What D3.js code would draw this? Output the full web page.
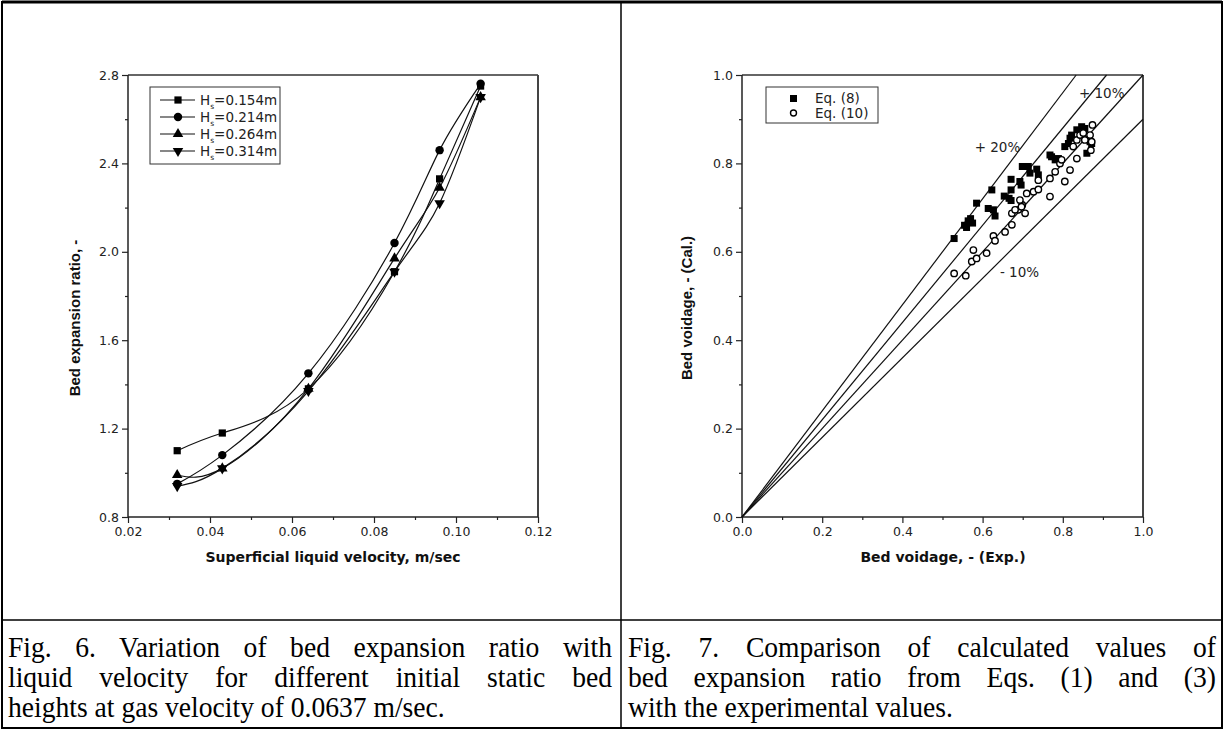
<!DOCTYPE html>
<html>
<head>
<meta charset="utf-8">
<script src="https://cdn.jsdelivr.net/npm/d3@7"></script>
<style>
  body { margin: 0; background: #fff; }
  svg { display: block; }
  .tick text { font-family: "DejaVu Sans", sans-serif; font-size: 12.5px; fill: #222; }
  .title { font-family: "DejaVu Sans", sans-serif; font-size: 14px; font-weight: bold; fill: #111; }
  .ytitle { font-family: "Liberation Sans Narrow", "Liberation Sans", Arial, sans-serif; font-size: 15px; font-weight: bold; fill: #111; }
  .legend text, .note { font-family: "DejaVu Sans", sans-serif; font-size: 13.5px; fill: #222; }
  .caption { font-family: "Liberation Serif", "Times New Roman", serif; font-size: 30px; fill: #000; }
</style>
</head>
<body>
<div id="page"></div>
<script>
/* global d3 */

// Fig. 6 data: superficial liquid velocity vs bed expansion ratio
var velocity = [ 0.032, 0.043, 0.064, 0.085, 0.096, 0.106 ];
var h154 = [ 1.10, 1.18, 1.38, 1.91, 2.33, 2.75 ];
var h214 = [ 0.95, 1.08, 1.45, 2.04, 2.46, 2.76 ];
var h264 = [ 0.99, 1.02, 1.38, 1.97, 2.29, 2.70 ];
var h314 = [ 0.94, 1.02, 1.37, 1.91, 2.22, 2.70 ];
var heightLabels = [ "=0.154m", "=0.214m", "=0.264m", "=0.314m" ];

// Fig. 7 data: experimental vs calculated bed voidage
var eq8Exp = [ 0.529, 0.555, 0.564, 0.570, 0.575, 0.560, 0.585, 0.614, 0.623, 0.627, 0.631,
  0.654, 0.666, 0.671, 0.671, 0.671, 0.693, 0.696, 0.699, 0.718, 0.714, 0.735, 0.739,
  0.768, 0.772, 0.781, 0.789, 0.805, 0.814, 0.818, 0.822, 0.835, 0.847, 0.855, 0.860, 0.868, 0.872 ];
var eq8Cal = [ 0.630, 0.660, 0.670, 0.675, 0.665, 0.655, 0.710, 0.698, 0.740, 0.695, 0.681,
  0.726, 0.721, 0.740, 0.764, 0.716, 0.759, 0.751, 0.793, 0.778, 0.793, 0.787, 0.774,
  0.819, 0.815, 0.808, 0.811, 0.838, 0.845, 0.857, 0.864, 0.876, 0.883, 0.879, 0.823, 0.849, 0.845 ];
var eq10Exp = [ 0.529, 0.558, 0.577, 0.573, 0.585, 0.610, 0.627, 0.631, 0.656, 0.673, 0.673,
  0.689, 0.699, 0.681, 0.697, 0.706, 0.693, 0.710, 0.727, 0.739, 0.739, 0.768, 0.768,
  0.781, 0.793, 0.797, 0.805, 0.818, 0.835, 0.826, 0.835, 0.843, 0.851, 0.855, 0.868, 0.874, 0.872, 0.870 ];
var eq10Cal = [ 0.551, 0.546, 0.604, 0.578, 0.585, 0.597, 0.636, 0.625, 0.645, 0.661, 0.687,
  0.695, 0.706, 0.695, 0.702, 0.687, 0.717, 0.732, 0.736, 0.741, 0.762, 0.725, 0.766,
  0.781, 0.800, 0.808, 0.759, 0.785, 0.811, 0.838, 0.853, 0.864, 0.869, 0.853, 0.864, 0.887, 0.849, 0.830 ];
var bandSlopes = [ 1.2, 1.1, 1.0, 0.9 ];
var bandLabels = [ { text: "+ 20%", x: 0.637, y: 0.838 }, { text: "+ 10%", x: 0.897, y: 0.960 },
  { text: "- 10%", x: 0.692, y: 0.555 } ];

var captionLeft = [ "Fig. 6. Variation of bed expansion ratio with",
  "liquid velocity for different initial static bed",
  "heights at gas velocity of 0.0637 m/sec." ];
var captionRight = [ "Fig. 7. Comparison of calculated values of",
  "bed expansion ratio from Eqs. (1) and (3)",
  "with the experimental values." ];

var W = 1224, H = 731;
var svg = d3.select( "#page" ).append( "svg" ).attr( "width", W ).attr( "height", H );

// table frame
var frame = svg.append( "g" ).attr( "fill", "none" ).attr( "stroke", "#000" );
frame.append( "rect" ).attr( "x", 2 ).attr( "y", 2 ).attr( "width", W - 4 ).attr( "height", H - 5 ).attr( "stroke-width", 2 );
frame.append( "line" ).attr( "x1", 2 ).attr( "x2", W - 2 ).attr( "y1", 2 ).attr( "y2", 2 ).attr( "stroke-width", 3 );
frame.append( "line" ).attr( "x1", 621 ).attr( "x2", 621 ).attr( "y1", 2 ).attr( "y2", H - 3 ).attr( "stroke-width", 1.5 );
frame.append( "line" ).attr( "x1", 2 ).attr( "x2", W - 2 ).attr( "y1", 620 ).attr( "y2", 620 ).attr( "stroke-width", 1.5 );

// captions: tall serif, first lines justified by word spacing
var capScale = 0.92;
function drawCaption( lines, x0, width ) {
  lines.forEach( function( t, i ) {
    var txt = svg.append( "text" ).attr( "class", "caption" )
      .attr( "transform", "translate(" + x0 + "," + ( 657 + i * 30 ) + ") scale(" + capScale + ",1)" )
      .text( t );
    if ( i < lines.length - 1 ) {
      var natural = txt.node().getComputedTextLength();
      var gaps = t.split( " " ).length - 1;
      txt.attr( "word-spacing", Math.max( 0, ( width / capScale - natural ) / gaps ) );
    }
  } );
}
drawCaption( captionLeft, 8, 604 );
drawCaption( captionRight, 628, 588 );

// common axis frame with outward major + minor ticks
function drawAxes( g, x, y, xMajor, xMinor, yMajor, yMinor, fmt ) {
  var xr = x.range(), yr = y.range();
  g.append( "g" ).attr( "transform", "translate(0," + yr[ 0 ] + ")" )
    .call( d3.axisBottom( x ).tickValues( xMinor ).tickSize( 3 ).tickFormat( "" ) );
  g.append( "g" ).attr( "transform", "translate(0," + yr[ 0 ] + ")" )
    .call( d3.axisBottom( x ).tickValues( xMajor ).tickSize( 6 ).tickPadding( 4 ).tickFormat( fmt.x ) );
  g.append( "g" ).attr( "transform", "translate(" + xr[ 0 ] + ",0)" )
    .call( d3.axisLeft( y ).tickValues( yMinor ).tickSize( 3 ).tickFormat( "" ) );
  g.append( "g" ).attr( "transform", "translate(" + xr[ 0 ] + ",0)" )
    .call( d3.axisLeft( y ).tickValues( yMajor ).tickSize( 6 ).tickPadding( 3 ).tickFormat( fmt.y ) );
  g.selectAll( ".domain" ).remove();
  g.selectAll( ".tick line" ).attr( "stroke", "#222" ).attr( "stroke-width", 1.2 );
  // box
  g.append( "line" ).attr( "x1", xr[ 0 ] ).attr( "x2", xr[ 1 ] ).attr( "y1", yr[ 1 ] ).attr( "y2", yr[ 1 ] )
    .attr( "stroke", "#666" ).attr( "stroke-width", 2 );
  g.append( "line" ).attr( "x1", xr[ 1 ] ).attr( "x2", xr[ 1 ] ).attr( "y1", yr[ 0 ] ).attr( "y2", yr[ 1 ] )
    .attr( "stroke", "#444" ).attr( "stroke-width", 2 );
  g.append( "line" ).attr( "x1", xr[ 0 ] ).attr( "x2", xr[ 1 ] ).attr( "y1", yr[ 0 ] ).attr( "y2", yr[ 0 ] )
    .attr( "stroke", "#222" ).attr( "stroke-width", 1.5 );
  g.append( "line" ).attr( "x1", xr[ 0 ] ).attr( "x2", xr[ 0 ] ).attr( "y1", yr[ 0 ] ).attr( "y2", yr[ 1 ] )
    .attr( "stroke", "#222" ).attr( "stroke-width", 1.5 );
}

/// Fig. 6
var g1 = svg.append( "g" );
var x1 = d3.scaleLinear().domain( [ 0.02, 0.12 ] ).range( [ 128, 538 ] );
var y1 = d3.scaleLinear().domain( [ 0.8, 2.8 ] ).range( [ 517, 75 ] );
drawAxes( g1, x1, y1, d3.range( 0.02, 0.1201, 0.02 ), d3.range( 0.03, 0.12, 0.02 ),
  d3.range( 0.8, 2.801, 0.4 ), d3.range( 1.0, 2.8, 0.4 ),
  { x: d3.format( ".2f" ), y: d3.format( ".1f" ) } );

g1.append( "text" ).attr( "class", "title" ).attr( "text-anchor", "middle" )
  .attr( "x", 333 ).attr( "y", 562 ).text( "Superficial liquid velocity, m/sec" );
g1.append( "text" ).attr( "class", "ytitle" ).attr( "text-anchor", "middle" )
  .attr( "transform", "translate(80,318) rotate(-90)" ).text( "Bed expansion ratio, -" );

var series1 = [ h154, h214, h264, h314 ];
var symbols = [ d3.symbolSquare, d3.symbolCircle, d3.symbolTriangle, d3.symbolTriangle ];
var symSize = [ 52, 56, 48, 48 ];
var line1 = d3.line().x( function( d ) { return x1( d[ 0 ] ); } ).y( function( d ) { return y1( d[ 1 ] ); } )
  .curve( d3.curveNatural );

series1.forEach( function( s, i ) {
  var pts = velocity.map( function( v, j ) { return [ v, s[ j ] ]; } );
  g1.append( "path" ).datum( pts ).attr( "d", line1 )
    .attr( "fill", "none" ).attr( "stroke", "#111" ).attr( "stroke-width", 1.2 );
  g1.selectAll( ".m" + i ).data( pts ).enter().append( "path" )
    .attr( "d", d3.symbol().type( symbols[ i ] ).size( symSize[ i ] ) )
    .attr( "transform", function( d ) {
      return "translate(" + x1( d[ 0 ] ) + "," + y1( d[ 1 ] ) + ")" + ( i === 3 ? " rotate(180)" : "" );
    } )
    .attr( "fill", "#000" );
} );

// legend
var leg1 = g1.append( "g" ).attr( "class", "legend" );
leg1.append( "rect" ).attr( "x", 150 ).attr( "y", 87 ).attr( "width", 130 ).attr( "height", 77 )
  .attr( "fill", "#fff" ).attr( "stroke", "#333" ).attr( "stroke-width", 1 );
heightLabels.forEach( function( lab, i ) {
  var yy = 100 + i * 17;
  leg1.append( "line" ).attr( "x1", 160 ).attr( "x2", 195 ).attr( "y1", yy ).attr( "y2", yy )
    .attr( "stroke", "#111" ).attr( "stroke-width", 1.2 );
  leg1.append( "path" ).attr( "d", d3.symbol().type( symbols[ i ] ).size( symSize[ i ] ) )
    .attr( "transform", "translate(178," + yy + ")" + ( i === 3 ? " rotate(180)" : "" ) ).attr( "fill", "#000" );
  var t = leg1.append( "text" ).attr( "x", 200 ).attr( "y", yy + 5 );
  t.append( "tspan" ).text( "H" );
  t.append( "tspan" ).attr( "dy", 4 ).attr( "font-size", "7.5px" ).text( "s" );
  t.append( "tspan" ).attr( "dy", -4 ).text( lab );
} );

/// Fig. 7
var g2 = svg.append( "g" );
var x2 = d3.scaleLinear().domain( [ 0, 1 ] ).range( [ 742, 1143 ] );
var y2 = d3.scaleLinear().domain( [ 0, 1 ] ).range( [ 517, 75 ] );
drawAxes( g2, x2, y2, d3.range( 0, 1.001, 0.2 ), d3.range( 0.1, 1, 0.2 ),
  d3.range( 0, 1.001, 0.2 ), d3.range( 0.1, 1, 0.2 ),
  { x: d3.format( ".1f" ), y: d3.format( ".1f" ) } );

g2.append( "text" ).attr( "class", "title" ).attr( "text-anchor", "middle" )
  .attr( "x", 943 ).attr( "y", 562 ).text( "Bed voidage, - (Exp.)" );
g2.append( "text" ).attr( "class", "ytitle" ).attr( "text-anchor", "middle" )
  .attr( "transform", "translate(692,308) rotate(-90)" ).text( "Bed voidage, - (Cal.)" );

// +/- percentage lines
bandSlopes.forEach( function( k ) {
  var xe = Math.min( 1, 1 / k );
  g2.append( "line" )
    .attr( "x1", x2( 0 ) ).attr( "y1", y2( 0 ) )
    .attr( "x2", x2( xe ) ).attr( "y2", y2( k * xe ) )
    .attr( "stroke", "#111" ).attr( "stroke-width", 1.2 );
} );
bandLabels.forEach( function( b ) {
  g2.append( "text" ).attr( "class", "note" ).attr( "text-anchor", "middle" )
    .attr( "x", x2( b.x ) ).attr( "y", y2( b.y ) + 5 ).text( b.text );
} );

g2.selectAll( ".sq" ).data( eq8Exp ).enter().append( "rect" )
  .attr( "x", function( d ) { return x2( d ) - 3.5; } )
  .attr( "y", function( d, i ) { return y2( eq8Cal[ i ] ) - 3.5; } )
  .attr( "width", 7 ).attr( "height", 7 ).attr( "fill", "#000" );
g2.selectAll( ".ci" ).data( eq10Exp ).enter().append( "circle" )
  .attr( "cx", function( d ) { return x2( d ); } )
  .attr( "cy", function( d, i ) { return y2( eq10Cal[ i ] ); } )
  .attr( "r", 3.2 ).attr( "fill", "#fff" ).attr( "stroke", "#000" ).attr( "stroke-width", 1.4 );

// legend
var leg2 = g2.append( "g" ).attr( "class", "legend" );
leg2.append( "rect" ).attr( "x", 766 ).attr( "y", 87 ).attr( "width", 112 ).attr( "height", 36 )
  .attr( "fill", "#fff" ).attr( "stroke", "#333" ).attr( "stroke-width", 1 );
leg2.append( "rect" ).attr( "x", 790 ).attr( "y", 95 ).attr( "width", 7 ).attr( "height", 7 ).attr( "fill", "#000" );
leg2.append( "circle" ).attr( "cx", 793.5 ).attr( "cy", 113 ).attr( "r", 3 )
  .attr( "fill", "#fff" ).attr( "stroke", "#000" ).attr( "stroke-width", 1.4 );
leg2.append( "text" ).attr( "x", 815 ).attr( "y", 103 ).text( "Eq. (8)" );
leg2.append( "text" ).attr( "x", 815 ).attr( "y", 118 ).text( "Eq. (10)" );
</script>
</body>
</html>
